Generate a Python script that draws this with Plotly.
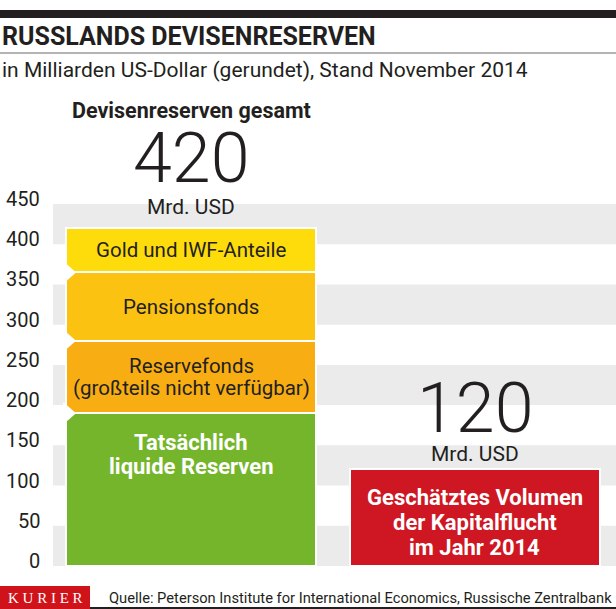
import plotly.graph_objects as go

# ---- data ----
categories = ["Devisenreserven gesamt", "Kapitalflucht 2014"]
segment_names = ["Tatsächlich|liquide Reserven", "Reservefonds|(großteils nicht verfügbar)",
                 "Pensionsfonds", "Gold und IWF-Anteile"]
segment_values = [190, 90, 85, 55]
segment_colors = ["#74B52B", "#F8AE13", "#FCC212", "#FEDC0B"]
segment_text_colors = ["white", "#231F20", "#231F20", "#231F20"]
capital_flight_name = "Geschätztes Volumen|der Kapitalflucht|im Jahr 2014"
capital_flight_value = [120]
tick_values = [0, 50, 100, 150, 200, 250, 300, 350, 400, 450]
tick_labels = ["0", "50", "100", "150", "200", "250", "300", "350", "400", "450"]

W, H = 616, 609
FONT = "Roboto"
NUMFONT = "Roboto"
DARK = "#231F20"


def py(p):
    return 1 - p / H


def px(p):
    return p / W


fig = go.Figure()

# stacked reserve segments
for name, val, col in zip(segment_names, segment_values, segment_colors):
    fig.add_trace(go.Bar(x=[0], y=[val], name=name.replace("|", " "), marker_color=col,
                         marker_line_color="white", marker_line_width=2.5, width=0.88,
                         hoverinfo="y+name"))
fig.add_trace(go.Bar(x=[1], y=capital_flight_value, name=capital_flight_name.replace("|", " "),
                     marker_color="#CE1722", marker_line_color="white", marker_line_width=2.5,
                     width=0.88, hoverinfo="y+name"))

shapes = []
# alternating grey bands
for lo, hi in zip(tick_values[:-1], tick_values[1:]):
    if (lo // 50) % 2 == 0:
        shapes.append(dict(type="rect", xref="paper", yref="y", x0=px(53), x1=1, y0=lo, y1=hi,
                           fillcolor="#EBEBEB", line_width=0, layer="below"))

# chevron notches at segment boundaries
left = -0.44
cum = 0
for v in segment_values[:-1]:
    cum += v
    shapes.append(dict(type="path", xref="x", yref="y",
                       path=f"M {left - 0.01},{cum - 14} L {left + 10 / 284},{cum} L {left - 0.01},{cum + 14} Z",
                       fillcolor="white", line_width=0, layer="above"))

# header / footer decoration
shapes += [
    dict(type="rect", xref="paper", yref="paper", x0=0, x1=1, y0=py(18), y1=py(10),
         fillcolor=DARK, line_width=0),
    dict(type="line", xref="paper", yref="paper", x0=0, x1=1, y0=py(53), y1=py(53),
         line=dict(color="#9A9A9A", width=1.5)),
    dict(type="rect", xref="paper", yref="paper", x0=0, x1=px(90), y0=0, y1=py(586),
         fillcolor="#D0121B", line_width=0),
    dict(type="line", xref="paper", yref="paper", x0=px(90), x1=1, y0=py(608), y1=py(608),
         line=dict(color=DARK, width=2)),
]

ann = []


def multiline(text, x, y, size, color, spacing, bold=False):
    lines = text.split("|")
    n = len(lines)
    for i, line in enumerate(lines):
        t = f"<b>{line}</b>" if bold else line
        ann.append(dict(text=t, xref="x", yref="y", x=x, y=y, xanchor="center", yanchor="middle",
                        yshift=((n - 1) / 2 - i) * spacing, showarrow=False,
                        font=dict(family=FONT, size=size, color=color)))


# titles
ann.append(dict(text="<b>RUSSLANDS DEVISENRESERVEN</b>", xref="paper", yref="paper", x=0, y=py(36),
                xanchor="left", yanchor="middle", showarrow=False,
                font=dict(family=FONT, size=25, color=DARK)))
ann.append(dict(text="in Milliarden US-Dollar (gerundet), Stand November 2014", xref="paper", yref="paper",
                x=0, y=py(70), xanchor="left", yanchor="middle", showarrow=False,
                font=dict(family=FONT, size=21, color=DARK)))
ann.append(dict(text="<b>Devisenreserven gesamt</b>", xref="x", yref="paper", x=0, y=py(110),
                xanchor="center", yanchor="middle", showarrow=False,
                font=dict(family=FONT, size=21.5, color=DARK)))

# totals
totals = [sum(segment_values), capital_flight_value[0]]
num_shift = [27, 18]
unit_shift = [7, 1]
for i, t in enumerate(totals):
    ann.append(dict(text=str(t), xref="x", yref="y", x=i, y=t, xanchor="center", yanchor="bottom",
                    yshift=num_shift[i], showarrow=False,
                    font=dict(family=NUMFONT, size=70, color=DARK, weight=300)))
    ann.append(dict(text="Mrd. USD", xref="x", yref="y", x=i, y=t, xanchor="center", yanchor="bottom",
                    yshift=unit_shift[i], showarrow=False, font=dict(family=FONT, size=21, color=DARK)))

# segment labels
cum = 0
for name, val, tc in zip(segment_names, segment_values, segment_text_colors):
    if tc == "white":
        multiline(name, 0, cum + val - 52, 22, tc, 24, bold=True)
    else:
        multiline(name, 0, cum + val / 2, 20.5, tc, 22)
    cum += val
multiline(capital_flight_name, 1, capital_flight_value[0] / 2 - 6.5, 22, "white", 25, bold=True)

# y tick labels (drawn slightly above their grid level, as in the original)
for v, lab in zip(tick_values, tick_labels):
    ann.append(dict(text=lab, xref="paper", yref="y", x=px(42), y=v, xanchor="right", yanchor="middle",
                    yshift=5, showarrow=False, font=dict(family=FONT, size=20, color=DARK)))

# footer
ann.append(dict(text="K U R I E R", xref="paper", yref="paper", x=px(45), y=py(598), xanchor="center",
                yanchor="middle", showarrow=False,
                font=dict(family="Liberation Serif", size=15, color="white")))
ann.append(dict(text="Quelle: Peterson Institute for International Economics, Russische Zentralbank",
                xref="paper", yref="paper", x=px(107), y=py(598), xanchor="left", yanchor="middle",
                showarrow=False, font=dict(family=FONT, size=14.7, color=DARK)))

fig.update_layout(
    width=W, height=H, margin=dict(l=0, r=0, t=0, b=0),
    paper_bgcolor="white", plot_bgcolor="white",
    barmode="stack", bargap=0, showlegend=False,
    shapes=shapes, annotations=ann,
    xaxis=dict(domain=[px(53), 1], range=[-0.4859, 1.4965], visible=False, fixedrange=True),
    yaxis=dict(domain=[py(566), py(204)], range=[0, 450], visible=False, fixedrange=True,
               tickvals=tick_values, ticktext=tick_labels),
)

fig.write_html("out.html", config={"displayModeBar": False},
               post_script="document.body.style.margin='0';document.body.style.overflow='hidden';")
